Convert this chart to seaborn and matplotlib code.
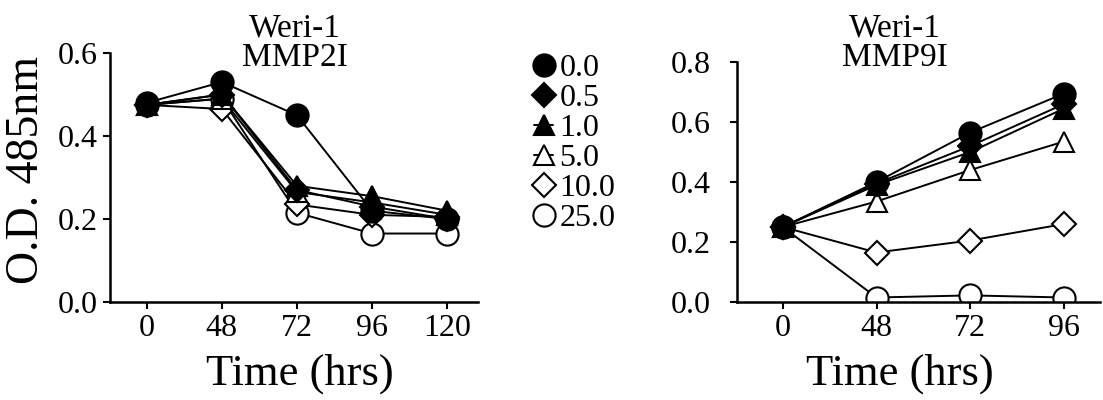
import pandas as pd
import seaborn as sns
import matplotlib.pyplot as plt

sns.set_style("ticks")
plt.rcParams['font.family'] = ['Liberation Serif', 'DejaVu Serif']
plt.rcParams.update({
    'text.color': 'black',
    'axes.labelcolor': 'black',
    'axes.edgecolor': 'black',
    'xtick.color': 'black',
    'ytick.color': 'black',
})

# inhibitor concentrations (legend) and time points
conc = ["0.0", "0.5", "1.0", "5.0", "10.0", "25.0"]
times_mmp2 = ["0", "48", "72", "96", "120"]
times_mmp9 = ["0", "48", "72", "96"]

# O.D. 485nm, Weri-1 + MMP2 inhibitor
mmp2_00 = [0.48, 0.53, 0.45, 0.22, 0.20]
mmp2_05 = [0.475, 0.50, 0.27, 0.23, 0.20]
mmp2_10 = [0.475, 0.50, 0.28, 0.255, 0.22]
mmp2_50 = [0.475, 0.49, 0.265, 0.24, 0.21]
mmp2_100 = [0.475, 0.465, 0.235, 0.21, 0.205]
mmp2_250 = [0.475, 0.49, 0.215, 0.165, 0.165]

# Weri-1 + MMP9 inhibitor
mmp9_00 = [0.25, 0.40, 0.565, 0.695]
mmp9_05 = [0.25, 0.395, 0.52, 0.66]
mmp9_10 = [0.25, 0.39, 0.50, 0.645]
mmp9_50 = [0.25, 0.335, 0.44, 0.535]
mmp9_100 = [0.25, 0.165, 0.205, 0.26]
mmp9_250 = [0.25, 0.015, 0.022, 0.015]

mmp2 = [mmp2_00, mmp2_05, mmp2_10, mmp2_50, mmp2_100, mmp2_250]
mmp9 = [mmp9_00, mmp9_05, mmp9_10, mmp9_50, mmp9_100, mmp9_250]

# marker style per concentration
markers = ["o", "D", "^", "^", "D", "o"]
faces = ["black", "black", "black", "white", "white", "white"]
sizes = [16, 12, 14, 14, 12, 16]


def long_df(series, times):
    rows = []
    for c, vals in zip(conc, series):
        for i, (t, v) in enumerate(zip(times, vals)):
            rows.append({'conc': c, 'pos': i, 'time': t, 'od': v})
    return pd.DataFrame(rows)


df2 = long_df(mmp2, times_mmp2)
df9 = long_df(mmp9, times_mmp9)

fig = plt.figure(figsize=(11.03, 4.0), dpi=100)
ax1 = fig.add_axes([0.0997, 0.245, 0.3336, 0.6225])
ax2 = fig.add_axes([0.668, 0.245, 0.329, 0.60])


def draw(ax, df):
    # draw highest concentration first so 0.0 sits on top
    for k in range(len(conc) - 1, -1, -1):
        sub = df[df['conc'] == conc[k]]
        sns.lineplot(data=sub, x='pos', y='od', ax=ax, color='black',
                     marker=markers[k], markersize=sizes[k],
                     markerfacecolor=faces[k], markeredgecolor='black',
                     markeredgewidth=1.5, linewidth=1.4, label=conc[k])
    if ax.get_legend() is not None:
        ax.get_legend().remove()
    ax.set_xlabel("Time (hrs)", fontsize=32)
    ax.set_ylabel("")
    for s in ['top', 'right']:
        ax.spines[s].set_visible(False)
    for s in ['left', 'bottom']:
        ax.spines[s].set_linewidth(1.8)
    ax.tick_params(direction='out', length=5, width=1.5, labelsize=23, pad=4)


draw(ax1, df2)
ax1.set_xticks(range(len(times_mmp2)))
ax1.set_xticklabels(times_mmp2)
ax1.set_xlim(-0.49, 4.41)
ax1.set_ylim(0, 0.6)
ax1.set_yticks([0.0, 0.2, 0.4, 0.6])
ax1.set_yticklabels(["0.0", "0.2", "0.4", "0.6"])
ax1.set_ylabel("O.D. 485nm", fontsize=33)
ax1.yaxis.set_label_coords(-0.225, 0.53)
ax1.yaxis.label.set_va('center')
ax1.xaxis.set_label_coords(0.516, -0.29)
ax1.xaxis.label.set_va('center')
ax1.text(0.503, 0.92, "Weri-1\nMMP2I", transform=ax1.transAxes,
         ha='center', va='bottom', fontsize=24, linespacing=0.95)

draw(ax2, df9)
ax2.set_xticks(range(len(times_mmp9)))
ax2.set_xticklabels(times_mmp9)
ax2.set_xlim(-0.49, 3.38)
ax2.set_ylim(0, 0.8)
ax2.set_yticks([0.0, 0.2, 0.4, 0.6, 0.8])
ax2.set_yticklabels(["0.0", "0.2", "0.4", "0.6", "0.8"])
ax2.tick_params(axis='y', pad=14)
ax2.xaxis.set_label_coords(0.449, -0.30)
ax2.xaxis.label.set_va('center')
ax2.text(0.435, 0.954, "Weri-1\nMMP9I", transform=ax2.transAxes,
         ha='center', va='bottom', fontsize=24, linespacing=0.95)

handles, labels = ax1.get_legend_handles_labels()
fig.legend(handles[::-1], labels[::-1], loc='upper left',
           bbox_to_anchor=(534 / 1103, 1 - 54 / 400), frameon=False,
           fontsize=23, handlelength=0.6, handletextpad=0.2,
           labelspacing=0.02, borderpad=0, borderaxespad=0)

plt.savefig("out.png", dpi=100)
